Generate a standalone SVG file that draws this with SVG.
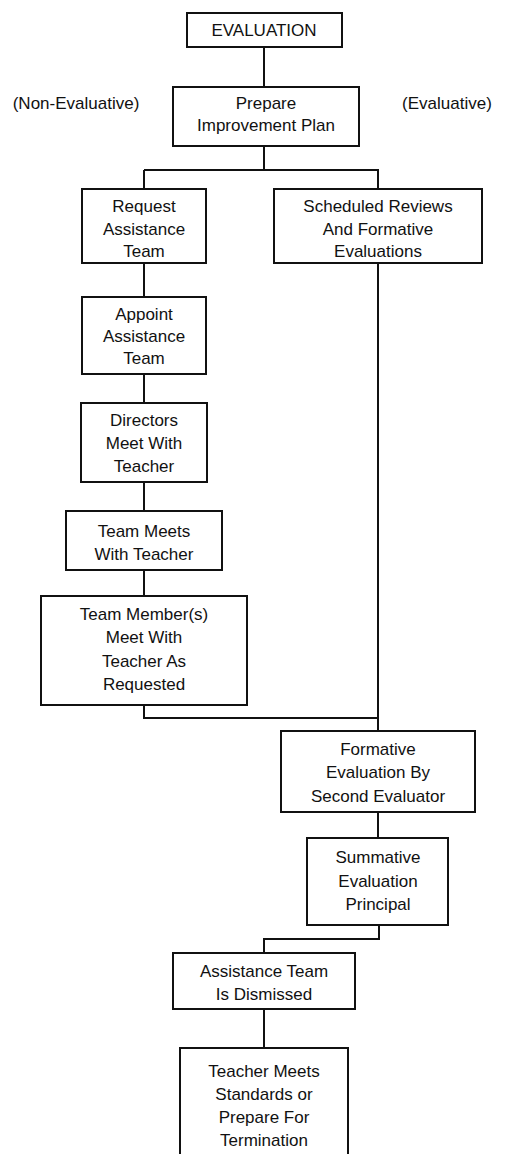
<svg xmlns="http://www.w3.org/2000/svg" width="508" height="1154" viewBox="0 0 508 1154">
<style>
.box{fill:#fff;stroke:#111;stroke-width:2}
.t{font-family:"Liberation Sans",Arial,Helvetica,sans-serif;font-size:17px;fill:#111;text-anchor:middle}
.c{fill:none;stroke:#111;stroke-width:2}
</style>
<rect width="508" height="1154" fill="#fff"/>
<g id="connectors">
<path class="c" d="M264 47V87M264 146V170M144 170H378V189M144 170V189M144 263V297M144 374V403M144 482V511M144 570V596M144 705V718H378M378 263V731M378 812V838M379 925V939H264V953M264 1009V1048"/>
</g>
<g id="evaluation"><rect class="box" x="187" y="13" width="155" height="34"/><text class="t" x="264" y="36">EVALUATION</text></g>
<g id="prepare"><rect class="box" x="173" y="87" width="186" height="59"/><text class="t" x="266" y="109">Prepare</text><text class="t" x="266" y="131">Improvement Plan</text></g>
<g id="label-nonevaluative"><text class="t" x="76" y="109">(Non-Evaluative)</text></g>
<g id="label-evaluative"><text class="t" x="447" y="109">(Evaluative)</text></g>
<g id="request"><rect class="box" x="82" y="189" width="124" height="74"/><text class="t" x="144" y="212">Request</text><text class="t" x="144" y="235">Assistance</text><text class="t" x="144" y="257">Team</text></g>
<g id="scheduled"><rect class="box" x="274" y="189" width="208" height="74"/><text class="t" x="378" y="212">Scheduled Reviews</text><text class="t" x="378" y="235">And Formative</text><text class="t" x="378" y="257">Evaluations</text></g>
<g id="appoint"><rect class="box" x="82" y="297" width="124" height="77"/><text class="t" x="144" y="320">Appoint</text><text class="t" x="144" y="342">Assistance</text><text class="t" x="144" y="364">Team</text></g>
<g id="directors"><rect class="box" x="81" y="403" width="126" height="79"/><text class="t" x="144" y="426">Directors</text><text class="t" x="144" y="449">Meet With</text><text class="t" x="144" y="472">Teacher</text></g>
<g id="team-meets"><rect class="box" x="66" y="511" width="156" height="59"/><text class="t" x="144" y="537">Team Meets</text><text class="t" x="144" y="560">With Teacher</text></g>
<g id="team-members"><rect class="box" x="41" y="596" width="206" height="109"/><text class="t" x="144" y="620">Team Member(s)</text><text class="t" x="144" y="643">Meet With</text><text class="t" x="144" y="667">Teacher As</text><text class="t" x="144" y="690">Requested</text></g>
<g id="formative"><rect class="box" x="281" y="731" width="194" height="81"/><text class="t" x="378" y="755">Formative</text><text class="t" x="378" y="778">Evaluation By</text><text class="t" x="378" y="802">Second Evaluator</text></g>
<g id="summative"><rect class="box" x="307" y="838" width="141" height="87"/><text class="t" x="378" y="863">Summative</text><text class="t" x="378" y="887">Evaluation</text><text class="t" x="378" y="910">Principal</text></g>
<g id="dismissed"><rect class="box" x="173" y="953" width="182" height="56"/><text class="t" x="264" y="977">Assistance Team</text><text class="t" x="264" y="1000">Is Dismissed</text></g>
<g id="teacher-meets"><rect class="box" x="180" y="1048" width="168" height="112"/><text class="t" x="264" y="1077">Teacher Meets</text><text class="t" x="264" y="1100">Standards or</text><text class="t" x="264" y="1123">Prepare For</text><text class="t" x="264" y="1146">Termination</text></g>
</svg>
